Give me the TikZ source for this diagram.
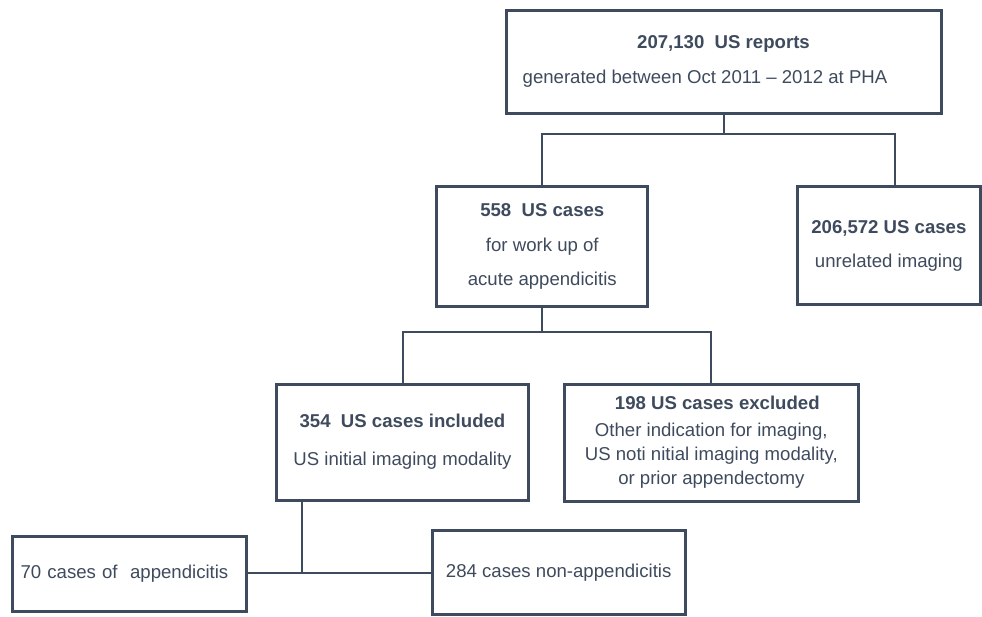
\documentclass[tikz,border=0pt]{standalone}
\usepackage{fontspec}
\setmainfont{Liberation Sans}
\definecolor{ink}{HTML}{3E4A5D}
\begin{document}
\begin{tikzpicture}[x=1pt,y=-1pt,
  box/.style={draw=ink, line width=3pt, text=ink, inner sep=0pt, align=center,
    font=\fontsize{18.6}{24}\selectfont, anchor=center},
  link/.style={draw=ink, line width=2pt}]
\useasboundingbox (0,0) rectangle (982,616);
\node[box, minimum width=435pt, minimum height=103pt] (top) at (723.5,61.5)
  {\textbf{207,130\ \ US reports}\\[11pt]\hspace*{-37pt}generated between Oct 2011 – 2012 at PHA};
\node[box, minimum width=211pt, minimum height=120pt] (b558) at (542.3,246.7)
  {\textbf{558\ \ US cases}\\[10.5pt]for work up of\\[10.5pt]acute appendicitis};
\node[box, minimum width=183pt, minimum height=118pt] (b3) at (888.9,245.5)
  {\textbf{206,572 US cases}\\[10pt]unrelated imaging};
\node[box, minimum width=252pt, minimum height=116pt] (b354) at (402.5,442)
  {\textbf{354\ \ US cases included}\\[14pt]US initial imaging modality};
\node[box, minimum width=294pt, minimum height=117pt] (b198) at (711.3,442.5)
  {\hspace*{12pt}\textbf{198 US cases excluded}\\[3pt]Other indication for imaging,\\US noti nitial imaging modality,\\or prior appendectomy};
\node[box, minimum width=234pt, minimum height=75pt, text width=218pt, align=left] (b70) at (129.5,573.5)
  {70 cases of\ \ appendicitis};
\node[box, minimum width=253pt, minimum height=84pt] (b284) at (558.7,572.9)
  {284 cases non-appendicitis};
\coordinate (j1) at (723.5,134.3);
\coordinate (j2) at (542.3,332);
\coordinate (j3) at (302.3,573.3);
\draw[link] (top.south) -- (j1);
\draw[link] (b558.north) |- (j1) -| ([xshift=6pt]b3.north);
\draw[link] (b558.south) -- (j2);
\draw[link] (b354.north) |- (j2) -| (b198.north);
\draw[link] (j3 |- b354.south) -- (j3);
\draw[link] (b70.east |- j3) -- (b284.west |- j3);
\end{tikzpicture}
\end{document}
